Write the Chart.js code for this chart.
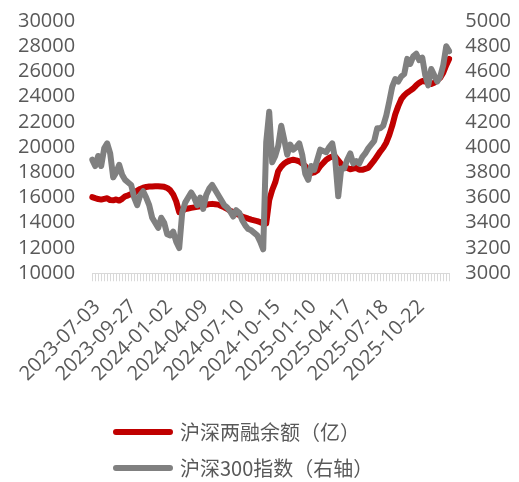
<!DOCTYPE html>
<html>
<head>
<meta charset="utf-8">
<script src="https://cdn.jsdelivr.net/npm/chart.js@4/dist/chart.umd.min.js"></script>
<style>
  html, body { margin: 0; padding: 0; background: #fff; }
  #wrap { width: 519px; height: 482px; }
</style>
</head>
<body>
<div id="wrap"><canvas id="chart"></canvas></div>
<script>
// ==========================
// DATA (one point every 5 trading days)
// ==========================
const tickDates = [
  "2023-07-03", "2023-09-27", "2024-01-02", "2024-04-09", "2024-07-10",
  "2024-10-15", "2025-01-10", "2025-04-17", "2025-07-18", "2025-10-22"
];
const TICK_STEP = 12;

// 沪深两融余额（亿）- left axis
const marginBalance = [
  16030, 15950, 15880, 15840, 15900, 15950, 15800, 15780, 15850, 15760,
  15900, 16100, 16180, 16280, 16350, 16550, 16680, 16780, 16840, 16870,
  16880, 16900, 16900, 16880, 16850, 16760, 16580, 16250, 15700, 14850,
  14950, 15080, 15130, 15180, 15220, 15260, 15300, 15370, 15420, 15480,
  15500, 15470, 15440, 15330, 15230, 15100, 14950, 14850, 14720, 14620,
  14500, 14420, 14330, 14250, 14190, 14130, 14050, 13950, 13950, 15800,
  16600, 17200, 18100, 18450, 18700, 18850, 18950, 19000, 18950, 18870,
  18700, 18500, 18200, 17950, 18000, 18150, 18500, 18740, 19000, 19150,
  19250, 19250, 18950, 18650, 18420, 18350, 18250, 18300, 18350, 18200,
  18200, 18280, 18350, 18650, 18950, 19300, 19650, 19950, 20350, 20950,
  21700, 22600, 23250, 23800, 24100, 24320, 24480, 24650, 24900, 25100,
  25240, 25200, 25100, 25000, 25100, 25300, 25500, 25900, 26500, 27000
];

// 沪深300指数（右轴）
const csi300 = [
  3900, 3850, 3930, 3850, 3990, 4030, 3950, 3760, 3800, 3860,
  3780, 3740, 3720, 3700, 3600, 3540, 3620, 3650, 3600, 3540,
  3440, 3400, 3360, 3440, 3400, 3310, 3300, 3330, 3250, 3200,
  3480, 3560, 3600, 3640, 3600, 3540, 3600, 3510, 3620, 3670,
  3700, 3660, 3620, 3580, 3540, 3520, 3490, 3450, 3500, 3480,
  3420, 3380, 3350, 3340, 3320, 3300, 3250, 3190, 4040, 4280,
  3880, 3930, 4010, 4170, 4060, 3940, 4020, 3980, 4000, 4030,
  3940, 3790, 3740, 3850, 3820, 3900, 3980, 3970, 3960, 4000,
  4030, 3900, 3610, 3830, 3830, 3900, 3950, 3870, 3890, 3870,
  3920, 3950, 3990, 4020, 4050, 4150, 4150, 4170, 4250, 4360,
  4480, 4540, 4520, 4560, 4580, 4700, 4660, 4720, 4740, 4690,
  4710, 4570, 4490, 4620, 4570, 4520, 4560, 4650, 4800, 4760
];

const RED = "#C00000";
const GRAY = "#808080";
const TEXT = "#595959";

// category labels: a date on every 12th point, blank elsewhere
const labels = marginBalance.map((_, i) =>
  i % TICK_STEP === 0 && tickDates[i / TICK_STEP] ? tickDates[i / TICK_STEP] : ""
);

// nudge legend to where the original sits
const legendShift = {
  id: "legendShift",
  afterLayout(chart) {
    const l = chart.legend;
    l.left = 100;
    l.top += 6;
    l.bottom += 6;
  }
};

const numFont = { family: "'Open Sans', sans-serif", size: 20 };
const plain = v => String(v);

new Chart(document.getElementById("chart"), {
  type: "line",
  data: {
    labels,
    datasets: [
      {
        label: "沪深两融余额（亿）",
        data: marginBalance,
        yAxisID: "y",
        borderColor: RED,
        backgroundColor: RED,
        borderWidth: 6,
        borderJoinStyle: "round",
        borderCapStyle: "round",
        pointRadius: 0,
        tension: 0,
        order: 1
      },
      {
        label: "沪深300指数（右轴）",
        data: csi300,
        yAxisID: "y1",
        borderColor: GRAY,
        backgroundColor: GRAY,
        borderWidth: 6,
        borderJoinStyle: "round",
        borderCapStyle: "round",
        pointRadius: 0,
        tension: 0,
        order: 0
      }
    ]
  },
  options: {
    responsive: true,
    maintainAspectRatio: false,
    animation: false,
    layout: { padding: { left: 1, right: -8, top: 0, bottom: 0 } },
    plugins: {
      tooltip: { enabled: false },
      legend: {
        position: "bottom",
        align: "start",
        labels: {
          boxWidth: 54,
          boxHeight: 0,
          padding: 16,
          color: TEXT,
          font: { family: "'Noto Sans CJK SC', sans-serif", size: 20 },
          sort: (a, b) => a.datasetIndex - b.datasetIndex
        }
      }
    },
    scales: {
      x: {
        offset: false,
        grid: {
          display: true,
          drawOnChartArea: false,
          drawTicks: true,
          tickLength: 8,
          color: "#d9d9d9"
        },
        border: { display: true, color: "#d9d9d9" },
        ticks: {
          autoSkip: false,
          minRotation: 45,
          maxRotation: 45,
          padding: 14,
          labelOffset: 5,
          color: TEXT,
          font: numFont
        },
        afterFit(scale) {
          scale.paddingLeft = 0;
          scale.paddingRight = 0;
        }
      },
      y: {
        position: "left",
        min: 10000,
        max: 30000,
        grid: { display: false, drawTicks: false },
        border: { display: false },
        ticks: { stepSize: 2000, autoSkip: false, padding: 17, color: TEXT, font: numFont, callback: plain },
        afterFit(scale) {
          scale.paddingTop = 21;
          scale.paddingBottom = 0;
        }
      },
      y1: {
        position: "right",
        min: 3000,
        max: 5000,
        grid: { display: false, drawTicks: false },
        border: { display: false },
        ticks: { stepSize: 200, autoSkip: false, padding: 16, color: TEXT, font: numFont, callback: plain },
        afterFit(scale) {
          scale.paddingTop = 21;
          scale.paddingBottom = 0;
        }
      }
    }
  },
  plugins: [legendShift]
});
</script>
</body>
</html>
